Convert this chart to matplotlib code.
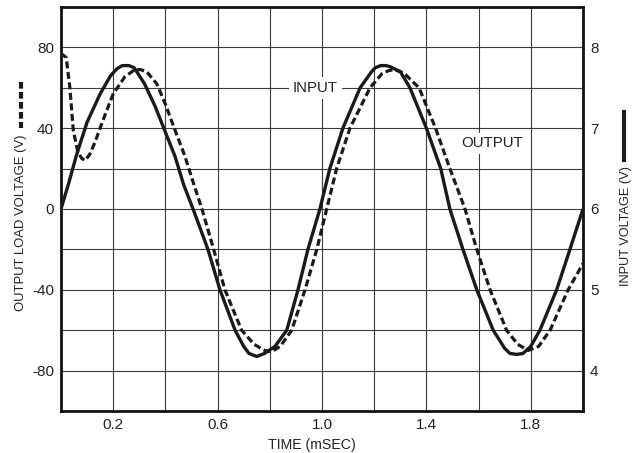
"""Input vs output load voltage over time (scope-style trace chart)."""

import matplotlib
matplotlib.use("Agg")
import matplotlib.pyplot as plt
from matplotlib.lines import Line2D

plt.rcParams["font.family"] = ["Liberation Sans", "DejaVu Sans"]

# values
input_t = [0, 0.03, 0.06, 0.10, 0.15, 0.19, 0.215, 0.235, 0.26, 0.28, 0.32, 0.36,
           0.40, 0.437, 0.47, 0.506, 0.563, 0.609, 0.667, 0.70, 0.72, 0.75, 0.78,
           0.82, 0.865, 0.908, 0.946, 0.992, 1.03, 1.08, 1.146, 1.19, 1.205, 1.225,
           1.245, 1.26, 1.30, 1.337, 1.40, 1.455, 1.49, 1.54, 1.593, 1.656, 1.70,
           1.72, 1.746, 1.77, 1.80, 1.835, 1.899, 1.95, 2.0]
input_v = [0, 13, 27, 43, 57, 66, 69.5, 71, 71, 70, 62, 51,
           38, 26, 12, 0, -20, -40, -60, -68, -71.5, -73, -71.5,
           -68, -60, -40, -20, 0, 20, 40, 60, 68, 70, 71,
           71, 70.5, 68, 60, 40, 20, 0, -20, -40, -60, -69,
           -71.5, -72, -71.5, -68, -60, -40, -20, 0]

output_t = [0, 0.02, 0.034, 0.047, 0.065, 0.08, 0.092, 0.11, 0.13, 0.161, 0.20,
            0.245, 0.283, 0.305, 0.328, 0.367, 0.398, 0.437, 0.475, 0.507, 0.54,
            0.585, 0.628, 0.692, 0.74, 0.78, 0.807, 0.84, 0.884, 0.935, 0.98,
            1.018, 1.056, 1.107, 1.184, 1.23, 1.255, 1.275, 1.30, 1.32, 1.372,
            1.435, 1.49, 1.548, 1.593, 1.644, 1.707, 1.75, 1.79, 1.83, 1.874,
            1.943, 2.0]
output_v = [77, 75, 60, 39, 28, 25, 24, 27, 33, 44, 57,
            65.5, 69, 69, 68, 62, 52.5, 39, 26, 13, 0,
            -20, -40, -60, -67, -70, -70.6, -68, -60, -40, -20,
            0, 20, 40, 60, 67, 68.5, 69, 68, 66.5, 60,
            40, 20, 0, -20, -40, -60, -67, -70, -68, -60,
            -40, -27]

x_ticks = [0.2, 0.6, 1.0, 1.4, 1.8]
left_ticks = [-80, -40, 0, 40, 80]
right_ticks = [4, 5, 6, 7, 8]

W, H = 636, 453
fig = plt.figure(figsize=(W / 100, H / 100), dpi=100)
ax = fig.add_axes([61 / W, 1 - 411 / H, 522 / W, 404 / H])

ax.set_xlim(0, 2.0)
ax.set_ylim(-100, 100)
ax.set_xticks([i * 0.2 for i in range(1, 10)])
ax.set_yticks(range(-80, 81, 20))
ax.grid(True, color="#3a3a3a", lw=0.8, zorder=0)
ax.set_axisbelow(True)
ax.set_xticklabels([f"{v:.1f}" if round(v, 1) in x_ticks else ""
                    for v in ax.get_xticks()])
ax.set_yticklabels([str(int(v)) if int(v) in left_ticks else ""
                    for v in ax.get_yticks()])
ax.tick_params(length=0, labelsize=11, pad=5, colors="#222222")
for sp in ax.spines.values():
    sp.set_linewidth(2.0)
    sp.set_color("#111111")

ax.plot(output_t, output_v, color="#1a1a1a", lw=2.3, ls=(0, (2.2, 1.1)),
        dash_capstyle="butt", dash_joinstyle="round", zorder=3)
ax.plot(input_t, input_v, color="#1a1a1a", lw=2.4,
        solid_joinstyle="round", solid_capstyle="butt", zorder=4)

box = dict(boxstyle="square,pad=0.25", fc="white", ec="none")
ax.text(0.975, 60, "INPUT", fontsize=10.8, ha="center", va="center",
        bbox=box, zorder=2, color="#222222")
ax.text(1.65, 32.5, "OUTPUT", fontsize=10.8, ha="center", va="center",
        bbox=box, zorder=2, color="#222222")

ax2 = ax.twinx()
ax2.set_ylim(3.5, 8.5)
ax2.set_yticks(right_ticks)
ax2.tick_params(length=0, labelsize=11, pad=5, colors="#222222")
for sp in ax2.spines.values():
    sp.set_visible(False)

# axis titles and their line-style keys
fig.text(312 / W, 1 - 445 / H, "TIME (mSEC)", fontsize=10.2, ha="center",
         va="center", color="#222222")
fig.text(21.5 / W, 1 - 223 / H, "OUTPUT LOAD VOLTAGE (V)", fontsize=9.4,
         rotation=90, ha="center", va="center", color="#222222")
fig.add_artist(Line2D([21 / W, 21 / W], [1 - 82 / H, 1 - 128 / H],
                      transform=fig.transFigure, color="#1a1a1a", lw=3.0,
                      ls=(0, (1.6, 0.8))))
fig.text(626 / W, 1 - 226 / H, "INPUT VOLTAGE (V)", fontsize=9.2,
         rotation=90, ha="center", va="center", color="#222222")
fig.add_artist(Line2D([624 / W, 624 / W], [1 - 112 / H, 1 - 160 / H],
                      transform=fig.transFigure, color="#1a1a1a", lw=3.0))

fig.savefig("out.png", dpi=100)
